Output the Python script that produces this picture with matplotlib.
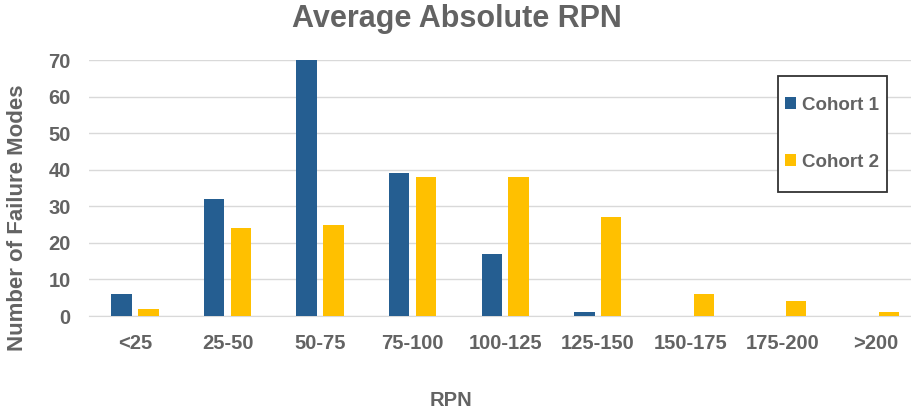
import matplotlib.pyplot as plt
from matplotlib.patches import Rectangle
import numpy as np

plt.rcParams['font.family'] = ['Liberation Sans', 'DejaVu Sans']
plt.rcParams['font.weight'] = 'bold'

categories = ['<25', '25-50', '50-75', '75-100', '100-125', '125-150', '150-175', '175-200', '>200']
cohort1 = [6, 32, 70, 39, 17, 1, 0, 0, 0]
cohort2 = [2, 24, 25, 38, 38, 27, 6, 4, 1]

gray = '#636363'
blue = '#255E91'
yellow = '#FFC000'

W, H = 912, 412
fig = plt.figure(figsize=(W / 100, H / 100), dpi=100)
# axes runs a bit past the right edge, like the cropped original
ax = fig.add_axes([88.7 / W, 1 - 316 / H, 833 / W, 256 / H])

x = np.arange(len(categories))
w = 0.22
ax.bar(x - 0.145, cohort1, w, color=blue, label='Cohort 1', zorder=3)
ax.bar(x + 0.145, cohort2, w, color=yellow, label='Cohort 2', zorder=3)

ax.set_xlim(-0.5, len(categories) - 0.5)
ax.set_ylim(0, 70)
ax.set_yticks(range(0, 71, 10))
ax.set_xticks(x)
ax.set_xticklabels(categories)
ax.tick_params(axis='both', length=0, labelsize=14.5, labelcolor=gray)
ax.tick_params(axis='x', pad=13)
ax.tick_params(axis='y', pad=13)
ax.grid(axis='y', color='#D9D9D9', linewidth=1, zorder=0)
for s in ['top', 'right', 'left']:
    ax.spines[s].set_visible(False)
ax.spines['bottom'].set_color('#D9D9D9')

fig.text(457 / W, 1 - 19 / H, 'Average Absolute RPN', fontsize=22, color=gray,
         fontweight='bold', ha='center', va='center')
fig.text(18 / W, 1 - 218 / H, 'Number of Failure Modes', fontsize=16, color=gray,
         fontweight='bold', ha='center', va='center', rotation=90)
fig.text(451 / W, 1 - 400 / H, 'RPN', fontsize=14.5, color=gray, fontweight='bold',
         ha='center', va='center')

# legend box drawn separately: Excel keeps wide vertical padding
fig.patches.append(Rectangle((778 / W, 1 - 192 / H), 109 / W, 116 / H,
                             transform=fig.transFigure, fill=True, facecolor='white',
                             edgecolor='#333333', linewidth=1.3, zorder=5))
leg = fig.legend(loc='upper left', bbox_to_anchor=(781 / W, 1 - 93 / H), frameon=False,
                 handlelength=0.6, handleheight=0.6, handletextpad=0.3, labelspacing=2.13,
                 borderpad=0.2, borderaxespad=0, prop={'size': 13.5, 'weight': 'bold'},
                 labelcolor=gray)
leg.set_zorder(6)

fig.savefig('out.png', dpi=100)
